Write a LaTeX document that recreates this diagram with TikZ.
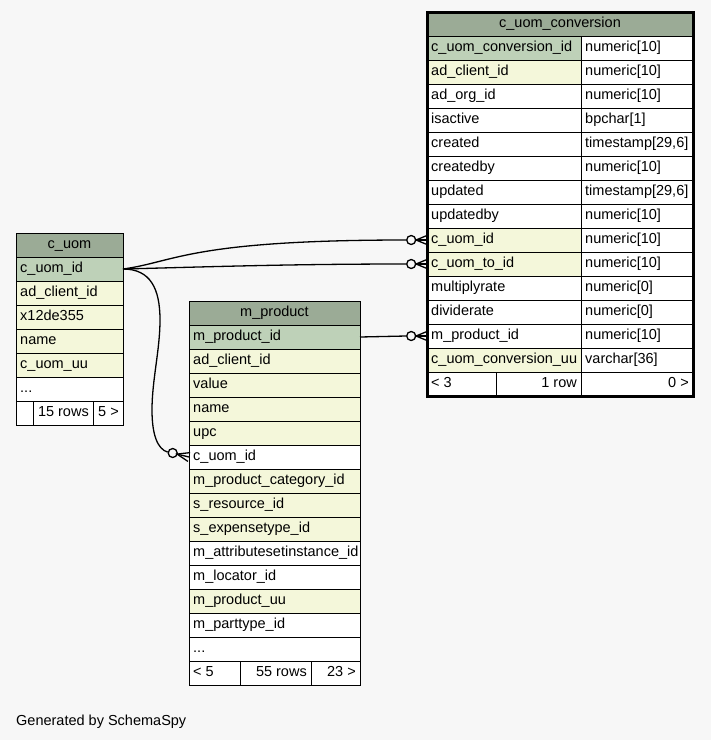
\documentclass[tikz,border=0pt]{standalone}
\usepackage{fontspec}
\setmainfont{Liberation Sans}
\definecolor{bg}{HTML}{F7F7F7}
\definecolor{head}{HTML}{9BAB96}
\definecolor{pk}{HTML}{BED1B8}
\definecolor{idx}{HTML}{F4F7DA}
\newcommand\tabfont{\fontsize{14.5}{17}\selectfont}
\tikzset{
  cell/.style={draw=black, line width=1pt, minimum height=24pt, inner sep=0pt, outer sep=0pt, anchor=north west},
  txt/.style={inner sep=0pt, font=\tabfont, text height=10pt, text depth=3.6pt},
  conn/.style={draw=black, line width=1.3pt},
  ocircle/.style={draw=black, line width=1.3pt, fill=bg, circle, inner sep=0pt, minimum size=9pt},
}
% name, x, y, width, fill, text
\newcommand\lcell[6]{\node[cell,fill=#5,minimum width=#4pt] (#1) at (#2,#3) {};
  \node[txt,anchor=west] (#1-t) at ([xshift=4pt]#1.west) {#6};}
\newcommand\rcell[6]{\node[cell,fill=#5,minimum width=#4pt] (#1) at (#2,#3) {};
  \node[txt,anchor=east] (#1-t) at ([xshift=-4pt]#1.east) {#6};}
\newcommand\ccell[6]{\node[cell,fill=#5,minimum width=#4pt] (#1) at (#2,#3) {};
  \node[txt] (#1-t) at (#1.center) {#6};}
% crow's foot with open circle at a row's west side (horizontal)
\newcommand\crowh[2]{% row node, circle name
  \node[ocircle] (#2) at ([xshift=-15.8pt]#1.west) {};
  \coordinate (#2-tip) at ([xshift=-11pt]#1.west);
  \draw[conn] ([yshift=4.5pt]#1.west) -- (#2-tip) -- ([yshift=-4.5pt]#1.west);
  \draw[conn] (#2-tip) -- (#1.west);}
\begin{document}
\begin{tikzpicture}[x=1pt,y=-1pt]
\fill[bg] (0,0) rectangle (711,740);
\useasboundingbox (0,0) rectangle (711,740);

% ---------------- c_uom ----------------
\ccell{cu-h}{16}{233}{107}{head}{c\_uom}
\lcell{cu-1}{16}{257}{107}{pk}{c\_uom\_id}
\lcell{cu-2}{16}{281}{107}{idx}{ad\_client\_id}
\lcell{cu-3}{16}{305}{107}{idx}{x12de355}
\lcell{cu-4}{16}{329}{107}{idx}{name}
\lcell{cu-5}{16}{353}{107}{idx}{c\_uom\_uu}
\lcell{cu-6}{16}{377}{107}{white}{...}
\lcell{cu-f1}{16}{401}{17}{white}{}
\rcell{cu-f2}{33}{401}{60}{white}{15 rows}
\rcell{cu-f3}{93}{401}{30}{white}{5 >}

% ---------------- m_product ----------------
\ccell{mp-h}{189}{301}{171}{head}{m\_product}
\lcell{mp-1}{189}{325}{171}{pk}{m\_product\_id}
\lcell{mp-2}{189}{349}{171}{idx}{ad\_client\_id}
\lcell{mp-3}{189}{373}{171}{idx}{value}
\lcell{mp-4}{189}{397}{171}{idx}{name}
\lcell{mp-5}{189}{421}{171}{idx}{upc}
\lcell{mp-6}{189}{445}{171}{white}{c\_uom\_id}
\lcell{mp-7}{189}{469}{171}{idx}{m\_product\_category\_id}
\lcell{mp-8}{189}{493}{171}{idx}{s\_resource\_id}
\lcell{mp-9}{189}{517}{171}{idx}{s\_expensetype\_id}
\lcell{mp-10}{189}{541}{171}{white}{m\_attributesetinstance\_id}
\lcell{mp-11}{189}{565}{171}{white}{m\_locator\_id}
\lcell{mp-12}{189}{589}{171}{idx}{m\_product\_uu}
\lcell{mp-13}{189}{613}{171}{white}{m\_parttype\_id}
\lcell{mp-14}{189}{637}{171}{white}{...}
\lcell{mp-f1}{189}{661}{51}{white}{< 5}
\rcell{mp-f2}{240}{661}{71}{white}{55 rows}
\rcell{mp-f3}{311}{661}{49}{white}{23 >}

% ---------------- c_uom_conversion ----------------
\ccell{cc-h}{427}{12}{266}{head}{c\_uom\_conversion}
\lcell{cc-1}{427}{36}{154}{pk}{c\_uom\_conversion\_id}
\lcell{cc-1t}{581}{36}{112}{white}{numeric[10]}
\lcell{cc-2}{427}{60}{154}{idx}{ad\_client\_id}
\lcell{cc-2t}{581}{60}{112}{white}{numeric[10]}
\lcell{cc-3}{427}{84}{154}{white}{ad\_org\_id}
\lcell{cc-3t}{581}{84}{112}{white}{numeric[10]}
\lcell{cc-4}{427}{108}{154}{white}{isactive}
\lcell{cc-4t}{581}{108}{112}{white}{bpchar[1]}
\lcell{cc-5}{427}{132}{154}{white}{created}
\lcell{cc-5t}{581}{132}{112}{white}{timestamp[29,6]}
\lcell{cc-6}{427}{156}{154}{white}{createdby}
\lcell{cc-6t}{581}{156}{112}{white}{numeric[10]}
\lcell{cc-7}{427}{180}{154}{white}{updated}
\lcell{cc-7t}{581}{180}{112}{white}{timestamp[29,6]}
\lcell{cc-8}{427}{204}{154}{white}{updatedby}
\lcell{cc-8t}{581}{204}{112}{white}{numeric[10]}
\lcell{cc-9}{427}{228}{154}{idx}{c\_uom\_id}
\lcell{cc-9t}{581}{228}{112}{white}{numeric[10]}
\lcell{cc-10}{427}{252}{154}{idx}{c\_uom\_to\_id}
\lcell{cc-10t}{581}{252}{112}{white}{numeric[10]}
\lcell{cc-11}{427}{276}{154}{white}{multiplyrate}
\lcell{cc-11t}{581}{276}{112}{white}{numeric[0]}
\lcell{cc-12}{427}{300}{154}{white}{dividerate}
\lcell{cc-12t}{581}{300}{112}{white}{numeric[0]}
\lcell{cc-13}{427}{324}{154}{white}{m\_product\_id}
\lcell{cc-13t}{581}{324}{112}{white}{numeric[10]}
\lcell{cc-14}{427}{348}{154}{idx}{c\_uom\_conversion\_uu}
\lcell{cc-14t}{581}{348}{112}{white}{varchar[36]}
\lcell{cc-f1}{427}{372}{69}{white}{< 3}
\rcell{cc-f2}{496}{372}{85}{white}{1 row}
\rcell{cc-f3}{581}{372}{112}{white}{0 >}
\draw[line width=3pt] (cc-h.north west) rectangle (cc-f3.south east);

% ---------------- connectors ----------------
\crowh{cc-9}{o1}
\crowh{cc-10}{o2}
\crowh{cc-13}{o4}
\draw[conn] (cu-1.east) .. controls +(52,-7) and +(-216,0) .. (o1.west);
\draw[conn] (cu-1.east) .. controls +(80,-2) and +(-120,0) .. (o2.west);
\draw[conn] (mp-1.east) -- (o4.west);

% c_uom -> m_product.c_uom_id
\node[ocircle] (o3) at ([shift={(-16.3,-4)}]mp-6.west) {};
\coordinate (o3-tip) at ([shift={(-11.9,-2.9)}]mp-6.west);
\draw[conn] ([shift={(-1.1,4.4)}]mp-6.west) -- (o3-tip) -- ([shift={(1.1,-4.4)}]mp-6.west);
\draw[conn] (o3-tip) -- (mp-6.west);
\coordinate (b1) at ([shift={(37,51)}]cu-1.east);
\coordinate (b2) at ([shift={(29,141)}]cu-1.east);
\draw[conn] (cu-1.east) .. controls +(27,0) and +(0,-32) .. (b1)
  .. controls +(0,30) and +(0,-30) .. (b2)
  .. controls +(0,25) and +(-10,-3) .. (o3.170);

\node[font=\tabfont, inner sep=0pt, anchor=base west] (gen) at (16,725) {Generated by SchemaSpy};
\end{tikzpicture}
\end{document}
